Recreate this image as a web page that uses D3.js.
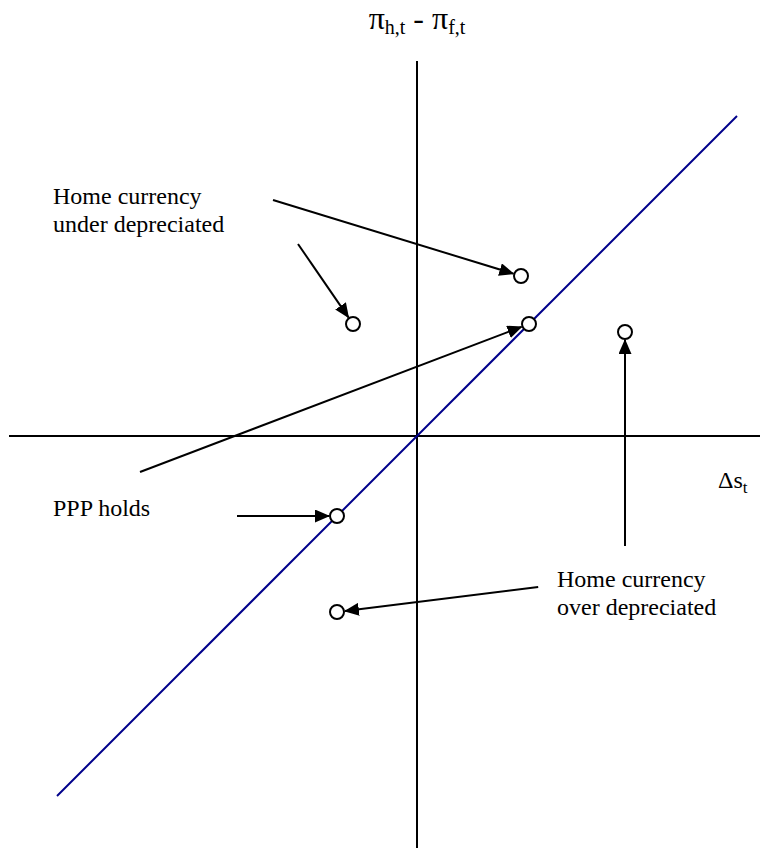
<!DOCTYPE html>
<html>
<head>
<meta charset="utf-8">
<script src="https://cdn.jsdelivr.net/npm/d3@7"></script>
<style>
  body { margin: 0; background: #fff; }
  svg { display: block; }
</style>
</head>
<body>
<div id="chart"></div>
<script>
// Données (unités : Δs en abscisse, π_h - π_f en ordonnée)

// points du graphique
const pointNames = ["A", "B", "C", "D", "E", "F"];
const pointX = [-1.6, 2.6, 2.8, 5.2, -2.0, -2.0];
const pointY = [2.8, 4.0, 2.8, 2.6, -2.0, -4.4];

// droite PPP (45°)
const pppX = [-9, 8];
const pppY = [-9, 8];

// flèches : origine -> point visé
const arrowFromX = [-3.6, -2.975, -6.925, -4.5, 5.2, 3.03];
const arrowFromY = [5.9, 4.8, -0.9, -2.0, -2.75, -3.775];
const arrowTo = ["B", "A", "C", "E", "D", "F"];

// libellés
const labelLines = [["Home currency", "under depreciated"], ["PPP holds"], ["Home currency", "over depreciated"]];
const labelX = [-9.1, -9.1, 3.5];
const labelY = [5.8, -2.0, -3.78];

// étendue des axes
const axisX = [-10.2, 8.6];
const axisY = [-10.3, 9.375];

//---------------------------------------------------------------------------------------

const width = 760;
const height = 864;
const serif = '"Liberation Serif"';

const svg = d3.select("#chart")
  .append("svg")
  .attr("width", width)
  .attr("height", height);

const scaleX = d3.scaleLinear().domain(axisX).range([9, 761]);
const scaleY = d3.scaleLinear().domain(axisY).range([848, 61]);

const points = pointNames.map((n, i) => ({ name: n, x: pointX[i], y: pointY[i] }));
const byName = new Map(points.map(d => [d.name, d]));

// pointe de flèche
svg.append("defs")
  .append("marker")
  .attr("id", "head")
  .attr("markerUnits", "userSpaceOnUse")
  .attr("viewBox", "0 0 15 13")
  .attr("markerWidth", 15)
  .attr("markerHeight", 13)
  .attr("refX", 14)
  .attr("refY", 6.5)
  .attr("orient", "auto")
  .append("path")
  .attr("d", "M0,0 L15,6.5 L0,13 Z")
  .attr("fill", "#000");

// axes
svg.append("line")
  .attr("x1", scaleX(axisX[0])).attr("x2", scaleX(axisX[1]))
  .attr("y1", scaleY(0)).attr("y2", scaleY(0))
  .attr("stroke", "#000").attr("stroke-width", 2);

svg.append("line")
  .attr("x1", scaleX(0)).attr("x2", scaleX(0))
  .attr("y1", scaleY(axisY[0])).attr("y2", scaleY(axisY[1]))
  .attr("stroke", "#000").attr("stroke-width", 2);

// droite PPP
svg.append("path")
  .datum(pppX.map((x, i) => [x, pppY[i]]))
  .attr("d", d3.line().x(d => scaleX(d[0])).y(d => scaleY(d[1])))
  .attr("fill", "none")
  .attr("stroke", "#00008B")
  .attr("stroke-width", 2);

// flèches
const r = 7;
const arrows = arrowTo.map((t, i) => {
  const x1 = scaleX(arrowFromX[i]), y1 = scaleY(arrowFromY[i]);
  const p = byName.get(t);
  const cx = scaleX(p.x), cy = scaleY(p.y);
  const len = Math.hypot(cx - x1, cy - y1);
  const k = (len - r - 1) / len;
  return { x1, y1, x2: x1 + (cx - x1) * k, y2: y1 + (cy - y1) * k };
});

svg.selectAll(".arrow")
  .data(arrows)
  .join("line")
  .attr("class", "arrow")
  .attr("x1", d => d.x1).attr("y1", d => d.y1)
  .attr("x2", d => d.x2).attr("y2", d => d.y2)
  .attr("stroke", "#000")
  .attr("stroke-width", 2)
  .attr("marker-end", "url(#head)");

// points
svg.selectAll(".pt")
  .data(points)
  .join("circle")
  .attr("class", "pt")
  .attr("cx", d => scaleX(d.x))
  .attr("cy", d => scaleY(d.y))
  .attr("r", r)
  .attr("fill", "#fff")
  .attr("stroke", "#000")
  .attr("stroke-width", 2);

// libellés
labelLines.forEach((lines, i) => {
  const t = svg.append("text")
    .attr("x", scaleX(labelX[i]))
    .attr("y", scaleY(labelY[i]))
    .style("font-family", serif)
    .attr("font-size", 24);
  lines.forEach((l, j) => {
    t.append("tspan")
      .attr("x", scaleX(labelX[i]))
      .attr("dy", j === 0 ? 0 : 28)
      .text(l);
  });
});

// titre de l'axe vertical : π_h,t - π_f,t
const yTitle = svg.append("text")
  .attr("x", scaleX(0))
  .attr("y", scaleY(10.175))
  .attr("text-anchor", "middle")
  .style("font-family", serif)
  .attr("font-size", 32);
yTitle.append("tspan").text("π");
yTitle.append("tspan").attr("font-size", 20).attr("dy", 5).text("h,t");
yTitle.append("tspan").attr("dy", -5).text(" - π");
yTitle.append("tspan").attr("font-size", 20).attr("dy", 5).text("f,t");

// titre de l'axe horizontal : Δs_t
const xTitle = svg.append("text")
  .attr("x", scaleX(7.525))
  .attr("y", scaleY(-1.3))
  .style("font-family", serif)
  .attr("font-size", 24);
xTitle.append("tspan").text("Δs");
xTitle.append("tspan").attr("font-size", 17).attr("dy", 5).text("t");
</script>
</body>
</html>
